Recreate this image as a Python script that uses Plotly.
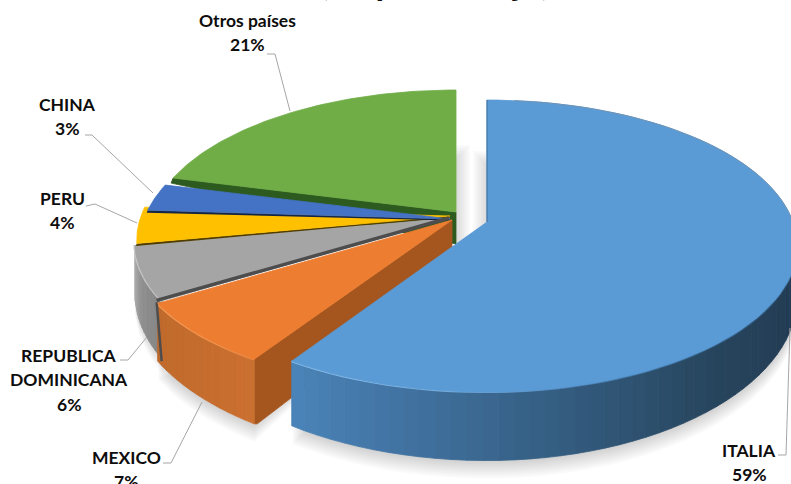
import math
import plotly.graph_objects as go

# ---- data ----
categories = ["ITALIA", "MEXICO", "REPUBLICA DOMINICANA", "PERU", "CHINA", "Otros países"]
shares = [59, 7, 6, 4, 3, 21]
label_lines = [["ITALIA"], ["MEXICO"], ["REPUBLICA", "DOMINICANA"], ["PERU"], ["CHINA"], ["Otros países"]]
title_text = "(en porcentaje)"

# ---- style / layout ----
W, H = 791, 484
face = ["#5b9bd5", "#ed7d31", "#a5a5a5", "#ffc000", "#4472c4", "#70ad47"]
RY, K = 142, 0.164
# per slice: apex x, apex y, radius to the right, radius to the left
geom = [(487, 222, 306, 314), (452, 220, 318, 318), (450, 218, 311, 311),
        (450, 216, 309, 309), (450, 219, 306, 306), (456, 212, 304, 304)]
label_pos = [(749, 450), (126, 457), (69, 355), (62, 198), (67, 104), (247, 20)]
LINE_STEP = 24.7
leaders = [
    [(778, 455), (786, 455), (790, 328)],
    [(163, 463), (171, 463), (202, 402)],
    [(120, 360), (128, 360), (147, 337)],
    [(86, 206), (95, 204), (137, 223)],
    [(85, 135), (92, 135), (153, 193)],
    [(267, 54), (275, 54), (290, 111)],
]

cum = [0]
for s in shares:
    cum.append(cum[-1] + s)
angles = [(c / sum(shares) * 360) for c in cum]


def wfac(t):
    return 1 + K * math.cos(math.radians(t))


def depth(t):
    return 48 / wfac(t) ** 2


def pt(t, g, dx=0, dy=0):
    a = math.radians(t)
    u, v = math.sin(a), -math.cos(a)
    w = 1 - K * v
    rx = g[2] if u >= 0 else g[3]
    return g[0] + rx * u / w + dx, g[1] + RY * v / w + dy


def arc(t0, t1, g, dx=0, dy=0, n=90):
    return [pt(t0 + (t1 - t0) * i / n, g, dx, dy) for i in range(n + 1)]


def wedge(i, dx=0, dy=0):
    g = geom[i]
    return [(g[0] + dx, g[1] + dy)] + arc(angles[i], angles[i + 1], g, dx, dy) + [(g[0] + dx, g[1] + dy)]


def low_wedge(i, extra, t0=None, t1=None):
    g = geom[i]
    t0 = angles[i] if t0 is None else t0
    t1 = angles[i + 1] if t1 is None else t1
    pts = []
    for j in range(61):
        t = t0 + (t1 - t0) * j / 60
        pts.append(pt(t, g, 0, depth(t) + extra))
    return [(g[0], g[1] + 40)] + pts + [(g[0], g[1] + 40)]


def lerp(c0, c1, f):
    a = [int(c0[j:j + 2], 16) for j in (1, 3, 5)]
    b = [int(c1[j:j + 2], 16) for j in (1, 3, 5)]
    return "rgb(%d,%d,%d)" % tuple(round(x + (y - x) * f) for x, y in zip(a, b))


def ramp(stops, f):
    f = max(0, min(1, f)) * (len(stops) - 1)
    j = min(int(f), len(stops) - 2)
    return lerp(stops[j], stops[j + 1], f - j)


fig = go.Figure()


def poly(points, color, line=0.8):
    points = list(points) + [points[0]]
    fig.add_trace(go.Scatter(
        x=[p[0] for p in points], y=[p[1] for p in points], mode="lines", fill="toself",
        fillcolor=color, line=dict(color=color, width=line), hoverinfo="skip", showlegend=False))


def stroke(points, color, width):
    fig.add_trace(go.Scatter(
        x=[p[0] for p in points], y=[p[1] for p in points], mode="lines",
        line=dict(color=color, width=width), hoverinfo="skip", showlegend=False))


def rim(i, t0, t1, stops, bevel, n=40, bevel_w=2.2):
    g = geom[i]
    for j in range(n):
        a = t0 + (t1 - t0) * j / n
        b = t0 + (t1 - t0) * (j + 1) / n
        top = arc(a, b, g, n=3)
        bot = [pt(s, g, 0, depth(s)) for s in (b, (a + 2 * b) / 3, (2 * a + b) / 3, a)]
        poly(top + bot, ramp(stops, (j + .5) / n))
    for j in range(n):
        a = t0 + (t1 - t0) * j / n
        b = t0 + (t1 - t0) * (j + 1) / n
        stroke(arc(a, b, g, n=3), ramp(bevel, (j + .5) / n), bevel_w)


def edge_band(i, t, thick, color):
    g = geom[i]
    c = pt(t, g)
    poly([(g[0], g[1]), c, (c[0] - 1, c[1] + thick), (g[0], g[1] + thick * 0.6)], color, 0)


# shadows below the pie
for j in range(2, 20, 2):
    poly(low_wedge(0, j, angles[1], 95), "rgba(0,0,0,0.02)", 0)
    poly(low_wedge(1, j), "rgba(0,0,0,0.02)", 0)
    poly(low_wedge(2, j * .8), "rgba(0,0,0,0.016)", 0)
# shadow inside the gap between the exploded slices
gap_left, gap_right, gap_top, gap_bottom = geom[5][0], geom[0][0], 145, 252
for j in range(2, 16, 2):
    poly([(gap_left, gap_top + 14 - j), (gap_left + j, gap_top + 14 - j), (gap_left + j, gap_bottom), (gap_left, gap_bottom)],
         "rgba(0,0,0,0.02)", 0)
    poly([(gap_right, gap_top + 20 - j), (gap_right - j, gap_top + 20 - j), (gap_right - j, gap_bottom), (gap_right, gap_bottom)],
         "rgba(0,0,0,0.02)", 0)

# green: dark cut side, then top
g5 = geom[5]
tip = pt(angles[5], g5)
poly([tip, (g5[0], g5[1]), (g5[0], g5[1] + 32), (tip[0] - 2, tip[1] + 5)], "#2d5a1f")
poly(wedge(5), face[5])
# grey rim, top
rim(2, angles[3], angles[2], ["#b4b4b4", "#8f8f8f", "#858585"], ["#cdcdcd", "#c8c8c8", "#bdbdbd"], n=14, bevel_w=3)
poly(wedge(2), face[2])
# gold with a dark lower edge
edge_band(3, angles[3], 2.5, "#4f3d00")
poly(wedge(3), face[3])
# dark blue with a dark lower edge
edge_band(4, angles[4], 2.5, "#152544")
poly(wedge(4), face[4])
# orange cut face, rim, dark boundary against the grey slice, top
g1 = geom[1]
a0 = pt(angles[1], g1)
d0 = depth(angles[1])
poly([(g1[0], g1[1]), a0, (a0[0], a0[1] + d0), (a0[0] + 3, a0[1] + d0), (g1[0], g1[1] + 55)], "#a5561e")
rim(1, angles[2], angles[1], ["#bf6a2c", "#c46c2d", "#cb7030"], ["#f39a58", "#f5954f", "#e88a48"], n=14, bevel_w=3)
a1 = pt(angles[2], g1)
stroke([(a1[0] - 1, a1[1] - 1), (a1[0] + 4, a1[1] + depth(angles[2]))], "#4d4d4d", 2.5)
stroke([(g1[0] - 3, g1[1] - 2), (a1[0] - 1, a1[1] - 3)], "#4d4d4d", 3.5)
poly(wedge(1), face[1])
# main slice
rim(0, angles[1], 95,
    ["#4b84ba", "#3f6f9c", "#325a7c", "#28465f", "#233d55", "#1f3a52"],
    ["#8fc2ec", "#7ab0e0", "#4f86ba", "#3a6a94", "#2f5678", "#2c5070"], n=48, bevel_w=2.5)
poly(wedge(0), face[0])
stroke(arc(6, 100, geom[0], n=40), "#6f93b5", 1)
stroke([(geom[0][0], geom[0][1]), pt(0, geom[0])], "#3d6d9a", 1)

# leader lines
for seg in leaders:
    stroke(seg, "#a6a6a6", 1)

# labels
for i, cat in enumerate(categories):
    x, y = label_pos[i]
    rows = label_lines[i] + ["%d%%" % shares[i]]
    for r, row in enumerate(rows):
        fig.add_annotation(x=x, y=y + r * LINE_STEP, xref="x", yref="y", text="<b>%s</b>" % row, showarrow=False,
                           xanchor="center", yanchor="middle", font=dict(family="Lato", size=17.5, color="#0d0d0d"))

# clipped title
fig.add_annotation(x=434.5, xref="x", y=1, yref="paper", yanchor="bottom", yshift=-4, text="<b>%s</b>" % title_text,
                   showarrow=False, xanchor="center", font=dict(family="Lato", size=35, color="#0d0d0d"))

fig.update_layout(
    width=W, height=H, autosize=False, margin=dict(l=0, r=0, t=0, b=0),
    paper_bgcolor="white", plot_bgcolor="white", showlegend=False,
    xaxis=dict(range=[0, W], visible=False, fixedrange=True),
    yaxis=dict(range=[H, 0], visible=False, fixedrange=True),
)
fig.write_html("out.html", config={"displayModeBar": False},
               post_script="document.body.style.margin='0';document.documentElement.style.overflow='hidden';")
